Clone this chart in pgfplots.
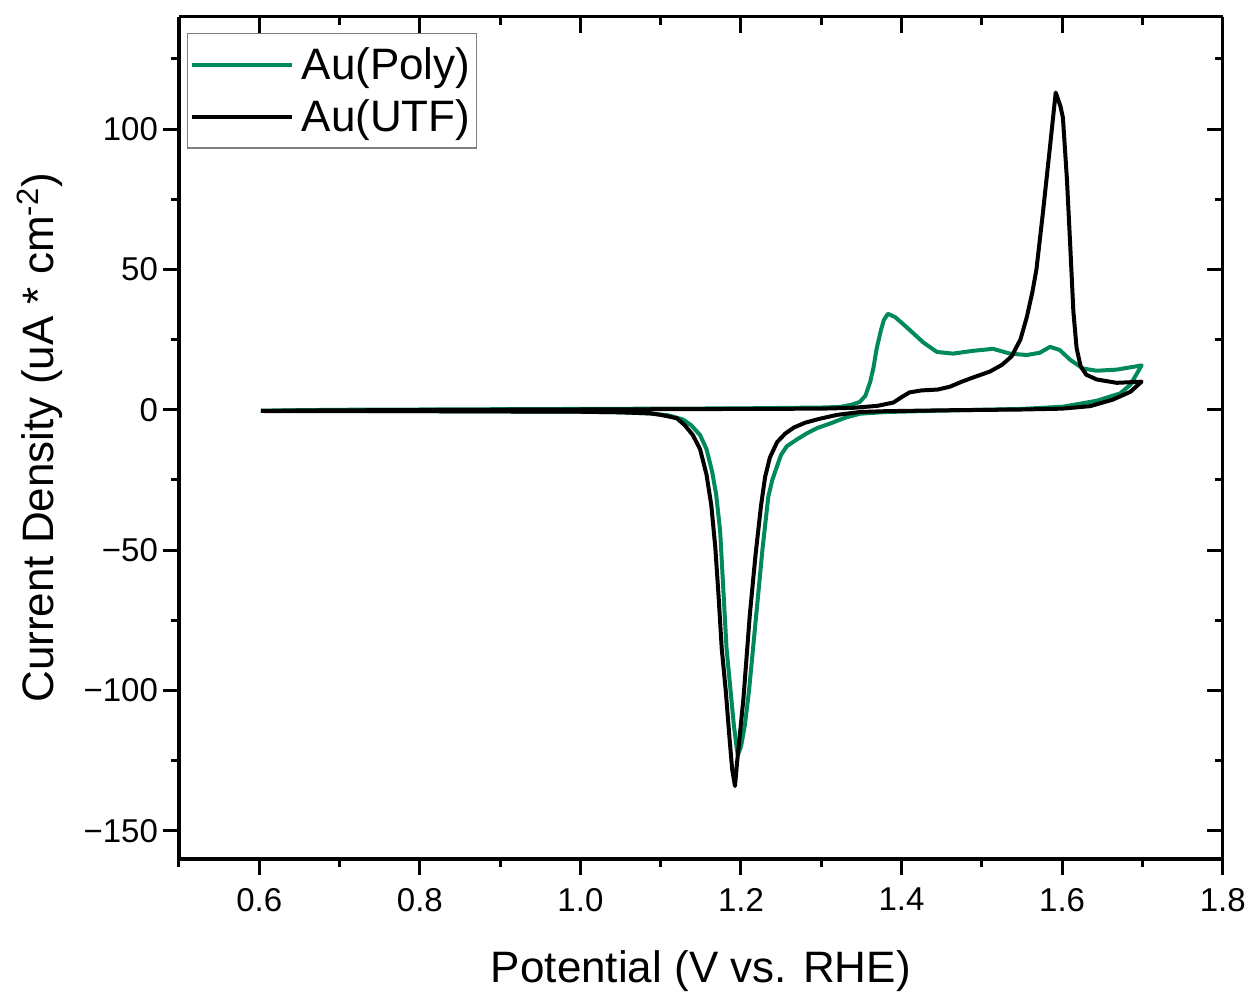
\documentclass[border=0pt]{standalone}
\usepackage{pgfplots}
\pgfplotsset{compat=1.18}
\usepackage{fontspec}
\setmainfont{Liberation Sans}
\definecolor{polygreen}{RGB}{0,137,92}

\begin{document}
\begin{tikzpicture}
\pgfplotsset{
  commonax/.style={
    width=521.85pt, height=421.15pt, scale only axis,
    xmin=0.5, xmax=1.8, ymin=-160, ymax=140,
    xtick={0.6,0.8,1.0,1.2,1.4,1.6,1.8},
    minor xtick={0.5,0.7,0.9,1.1,1.3,1.5,1.7},
    ytick={-150,-100,-50,0,50,100},
    minor ytick={-125,-75,-25,25,75,125},
    major tick length=8pt, minor tick length=4pt,
    every tick/.style={black, line width=1.5pt},
    axis line style={-, line width=1.6pt},
  }
}
% overlay axis: top and right, ticks inside, no labels
\begin{axis}[commonax,
  axis x line*=top, axis y line*=right,
  tick align=inside,
  xticklabels={}, yticklabels={},
]
\addplot[draw=none] coordinates {(0.6,0)};
\end{axis}
\begin{axis}[commonax, name=ax,
  axis x line*=bottom, axis y line*=left,
  tick align=outside,
  xticklabels={0.6,0.8,1.0,1.2,1.4,1.6,1.8},
  yticklabels={−150,−100,−50,0,50,100},
  ticklabel style={font=\fontsize{16.5}{19}\selectfont},
  xticklabel style={yshift=-3pt},
  yticklabel style={xshift=1pt},
  legend style={at={(rel axis cs:0,1)}, anchor=north west, xshift=4pt, yshift=-8pt,
    draw=gray, line width=0.7pt, font=\fontsize{22}{26}\selectfont,
    inner xsep=1pt, inner ysep=5pt, row sep=4.5pt},
  legend cell align=left,
  legend image code/.code={\draw[#1, line width=2pt] (0pt,0pt) -- (50pt,0pt); \path (52pt,0pt);},
]
\addplot[polygreen, line width=2pt, line join=round] coordinates {
(0.602,-0.3) (0.7,0.0) (0.8,0.1) (0.9,0.2) (1.0,0.3) (1.1,0.4) (1.2,0.5) (1.3,0.8)
(1.323,1.0) (1.338,1.8) (1.348,2.8) (1.355,5) (1.361,10) (1.365,15) (1.369,21.8)
(1.374,28) (1.378,32) (1.383,34.2) (1.392,33) (1.406,29.5) (1.427,24) (1.444,20.6)
(1.464,20.0) (1.489,21.0) (1.514,21.7) (1.535,20.0) (1.556,19.5) (1.572,20.3)
(1.585,22.4) (1.597,21.3) (1.61,17.8) (1.626,14.7) (1.643,13.9) (1.668,14.3) (1.699,15.8)
(1.685,8.9) (1.672,5.8) (1.643,3.2) (1.601,1.1) (1.55,0.3) (1.45,-0.3) (1.38,-0.8)
(1.348,-1.4) (1.33,-2.8) (1.311,-4.9) (1.295,-6.5) (1.282,-8.4) (1.27,-10.5)
(1.257,-13) (1.25,-16) (1.245,-20) (1.239,-25) (1.234,-31) (1.227,-49) (1.221,-67)
(1.215,-85) (1.21,-100) (1.205,-112) (1.2,-120) (1.196,-123) (1.194,-119)
(1.191,-112) (1.187,-100) (1.182,-85) (1.178,-64) (1.174,-43) (1.169,-30)
(1.164,-22) (1.157,-14) (1.149,-9) (1.138,-5.5) (1.128,-3.5) (1.11,-2) (1.087,-1.3)
(1.05,-0.9) (1.0,-0.7) (0.9,-0.6) (0.8,-0.5) (0.7,-0.4) (0.605,-0.4)
};
\addlegendentry{Au(Poly)}
\addplot[black, line width=2pt, line join=round] coordinates {
(0.602,-0.4) (0.7,-0.2) (0.8,-0.1) (0.9,0.0) (1.0,0.1) (1.1,0.2) (1.2,0.3) (1.3,0.4)
(1.34,0.7) (1.37,1.4) (1.39,2.6) (1.40,4.5) (1.41,6.2) (1.425,6.9) (1.445,7.2)
(1.46,8.2) (1.475,10.0) (1.49,11.6) (1.51,13.6) (1.525,16.0) (1.537,19.0)
(1.548,25) (1.556,33) (1.563,42) (1.568,50) (1.576,70) (1.585,94) (1.592,113)
(1.598,108) (1.601,104) (1.606,82) (1.610,59) (1.614,35) (1.618,22) (1.623,15.5)
(1.63,12.5) (1.643,10.8) (1.668,9.6) (1.699,10.0)
(1.685,6.4) (1.663,3.6) (1.635,1.3) (1.60,0.4) (1.55,0.1) (1.45,-0.2) (1.38,-0.5)
(1.348,-0.8) (1.32,-1.8) (1.298,-3.2) (1.28,-4.6) (1.266,-6.3) (1.255,-8.5) (1.245,-11.5)
(1.236,-17) (1.23,-24) (1.225,-34) (1.218,-52) (1.211,-73) (1.203,-103)
(1.195,-126) (1.1925,-134) (1.189,-128) (1.186,-118) (1.181,-100) (1.176,-85)
(1.172,-66) (1.168,-49) (1.163,-34) (1.157,-23) (1.149,-14) (1.14,-9) (1.13,-5.5)
(1.12,-3) (1.10,-1.8) (1.087,-1.3) (1.05,-0.9) (1.0,-0.7) (0.9,-0.6) (0.8,-0.5)
(0.7,-0.5) (0.605,-0.5)
};
\addlegendentry{Au(UTF)}
\end{axis}
\node[anchor=base, font=\fontsize{22}{26}\selectfont] at ([yshift=-61.5pt]ax.south) {Potential (V vs. RHE)};
\node[anchor=base, rotate=90, font=\fontsize{22}{26}\selectfont] at ([xshift=-62.5pt]ax.west) {Current Density (uA * cm\textsuperscript{-2})};
\pgfresetboundingbox
\path[use as bounding box] ([xshift=-89.5pt,yshift=-67pt]ax.south west) rectangle ([xshift=537.5pt,yshift=429.5pt]ax.south west);
\end{tikzpicture}
\end{document}
